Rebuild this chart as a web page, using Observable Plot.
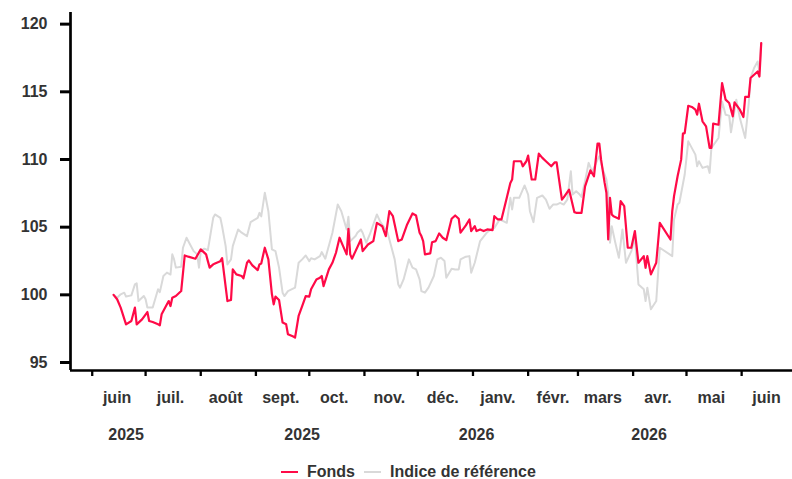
<!DOCTYPE html>
<html>
<head>
<meta charset="utf-8">
<script src="https://cdn.jsdelivr.net/npm/d3@7"></script>
<script src="https://cdn.jsdelivr.net/npm/@observablehq/plot@0.6"></script>
<style>
  html, body { margin: 0; padding: 0; background: #fff; }
  body { position: relative; width: 792px; height: 479px; overflow: hidden; font-family: "Liberation Sans", Arial, Helvetica, sans-serif; }
  #legend { position: absolute; top: 463px; left: 281px; display: flex; align-items: center; font-size: 16px; font-weight: bold; color: #333; line-height: 18px; white-space: nowrap; }
  #legend .sw { display: inline-block; width: 17px; height: 2px; }
  #legend .lab { margin-left: 9px; margin-right: 9px; }
</style>
</head>
<body>
<div id="chart"></div>
<div id="legend"></div>
<script>
// ---- data ----
const seriesNames = ["Fonds", "Indice de référence"];
const seriesColors = ["#ff0a47", "#d9d9d9"];

const fondsDates = [
"2025-06-13","2025-06-15","2025-06-17","2025-06-20","2025-06-23","2025-06-25","2025-06-26","2025-06-29",
"2025-07-02","2025-07-03","2025-07-05","2025-07-08","2025-07-09","2025-07-10","2025-07-13","2025-07-14","2025-07-15","2025-07-16","2025-07-18","2025-07-21","2025-07-23","2025-07-25","2025-07-29",
"2025-08-01","2025-08-04","2025-08-05","2025-08-06","2025-08-08","2025-08-09","2025-08-12","2025-08-13","2025-08-16","2025-08-18","2025-08-19","2025-08-21","2025-08-24","2025-08-25","2025-08-27","2025-08-28","2025-08-30",
"2025-09-02","2025-09-03","2025-09-04","2025-09-06","2025-09-08","2025-09-10","2025-09-11","2025-09-12","2025-09-14","2025-09-16","2025-09-18","2025-09-19","2025-09-22","2025-09-23","2025-09-25","2025-09-27","2025-09-29",
"2025-10-01","2025-10-02","2025-10-05","2025-10-07","2025-10-08","2025-10-09","2025-10-12","2025-10-14","2025-10-16","2025-10-18","2025-10-20","2025-10-22","2025-10-23","2025-10-24","2025-10-25","2025-10-27","2025-10-30","2025-10-31",
"2025-11-03","2025-11-06","2025-11-08","2025-11-11","2025-11-13","2025-11-15","2025-11-17","2025-11-18","2025-11-20","2025-11-22","2025-11-25","2025-11-28","2025-11-30",
"2025-12-02","2025-12-03","2025-12-04","2025-12-05","2025-12-08","2025-12-09","2025-12-11","2025-12-13","2025-12-15","2025-12-17","2025-12-20","2025-12-22","2025-12-24","2025-12-25","2025-12-28","2025-12-30","2025-12-31",
"2026-01-02","2026-01-03","2026-01-05","2026-01-07","2026-01-09","2026-01-12","2026-01-13","2026-01-15","2026-01-17","2026-01-20","2026-01-22","2026-01-23","2026-01-24","2026-01-28","2026-01-29","2026-01-31",
"2026-02-01","2026-02-03","2026-02-05","2026-02-07","2026-02-09","2026-02-11","2026-02-14","2026-02-16","2026-02-17","2026-02-20","2026-02-21","2026-02-24","2026-02-27","2026-02-28",
"2026-03-03","2026-03-05","2026-03-08","2026-03-10","2026-03-12","2026-03-13","2026-03-14","2026-03-16","2026-03-17","2026-03-18","2026-03-19","2026-03-20","2026-03-21","2026-03-24","2026-03-25","2026-03-27","2026-03-29","2026-03-31",
"2026-04-02","2026-04-04","2026-04-07","2026-04-08","2026-04-09","2026-04-11","2026-04-14","2026-04-16","2026-04-22","2026-04-23","2026-04-24","2026-04-26","2026-04-28","2026-04-29","2026-04-30",
"2026-05-02","2026-05-04","2026-05-06","2026-05-07","2026-05-08","2026-05-10","2026-05-12","2026-05-14","2026-05-15","2026-05-16","2026-05-19","2026-05-21","2026-05-23","2026-05-25","2026-05-27","2026-05-28","2026-05-31",
"2026-06-02","2026-06-03","2026-06-05","2026-06-06","2026-06-08","2026-06-10","2026-06-11","2026-06-12"
];
const fondsValues = [
100.0,99.67,99.06,97.82,98.07,99.06,97.82,98.19,
98.73,98.07,97.99,97.82,97.75,98.56,99.30,99.54,99.17,99.79,99.91,100.28,102.91,102.82,102.67,
103.36,102.99,102.49,102.01,102.25,102.32,102.49,102.71,99.54,99.62,101.88,101.51,101.39,101.22,102.37,102.54,102.18,
101.83,102.25,102.32,103.48,102.62,100.04,99.30,99.87,99.62,97.95,97.82,97.09,96.92,96.84,98.44,99.17,99.91,
99.87,100.41,101.14,101.27,101.39,100.65,101.88,102.37,103.11,104.22,103.60,102.99,104.88,102.99,102.67,103.23,104.09,103.23,
103.72,103.97,105.32,105.07,104.34,106.18,105.81,105.20,103.97,104.09,105.20,106.01,105.86,
104.59,104.34,103.97,102.99,103.06,103.89,103.97,104.54,104.22,104.04,105.62,105.86,105.62,104.59,105.13,105.57,104.71,
105.07,104.71,104.83,104.71,104.83,104.78,105.81,105.57,105.57,107.17,108.27,108.52,109.87,109.87,109.50,109.87,
110.29,108.52,108.52,110.43,110.12,109.87,109.50,109.79,109.79,107.04,107.20,107.78,106.11,106.06,
106.06,108.02,109.20,108.76,111.17,111.17,109.99,108.27,107.54,104.09,107.17,105.94,105.80,105.62,106.92,106.55,103.48,103.48,
104.71,102.37,102.86,102.00,102.86,101.51,102.37,105.32,104.09,106.18,107.29,108.76,109.99,111.91,111.95,
113.97,113.88,113.68,113.31,114.12,112.82,112.45,110.86,110.86,112.65,112.57,115.65,114.42,114.17,113.19,114.22,113.68,
113.14,114.62,114.62,116.02,116.26,116.50,116.13,118.60
];

const indiceDates = [
"2025-06-13","2025-06-15","2025-06-17","2025-06-19","2025-06-20","2025-06-23","2025-06-25","2025-06-26","2025-06-27","2025-06-30",
"2025-07-01","2025-07-02","2025-07-05","2025-07-08","2025-07-09","2025-07-11","2025-07-13","2025-07-15","2025-07-16","2025-07-17","2025-07-18","2025-07-21","2025-07-22","2025-07-24","2025-07-26","2025-07-28","2025-07-30","2025-07-31",
"2025-08-01","2025-08-03","2025-08-05","2025-08-08","2025-08-09","2025-08-12","2025-08-13","2025-08-15","2025-08-16","2025-08-18","2025-08-19","2025-08-22","2025-08-24","2025-08-27","2025-08-29",
"2025-09-02","2025-09-03","2025-09-04","2025-09-06","2025-09-08","2025-09-10","2025-09-12","2025-09-14","2025-09-16","2025-09-17","2025-09-19","2025-09-23","2025-09-25","2025-09-27","2025-09-29",
"2025-10-01","2025-10-02","2025-10-04","2025-10-07","2025-10-08","2025-10-10","2025-10-14","2025-10-17","2025-10-19","2025-10-22","2025-10-23","2025-10-24","2025-10-25","2025-10-27","2025-10-28","2025-10-30","2025-10-31",
"2025-11-02","2025-11-04","2025-11-08","2025-11-10","2025-11-13","2025-11-14","2025-11-16","2025-11-18","2025-11-20","2025-11-21","2025-11-23","2025-11-26","2025-11-28","2025-11-30",
"2025-12-02","2025-12-03","2025-12-05","2025-12-07","2025-12-10","2025-12-12","2025-12-14","2025-12-16","2025-12-17","2025-12-20","2025-12-22","2025-12-24","2025-12-25","2025-12-28","2025-12-30","2025-12-31",
"2026-01-02","2026-01-05","2026-01-09","2026-01-11","2026-01-13","2026-01-16","2026-01-20","2026-01-22","2026-01-23","2026-01-24","2026-01-27","2026-01-30",
"2026-02-01","2026-02-02","2026-02-04","2026-02-06","2026-02-09","2026-02-11","2026-02-13","2026-02-15","2026-02-17","2026-02-19","2026-02-21","2026-02-23","2026-02-25","2026-02-26","2026-02-28",
"2026-03-02","2026-03-03","2026-03-05","2026-03-07","2026-03-09","2026-03-12","2026-03-13","2026-03-15","2026-03-17","2026-03-18","2026-03-19","2026-03-20","2026-03-22","2026-03-24","2026-03-26","2026-03-28","2026-03-31",
"2026-04-02","2026-04-04","2026-04-07","2026-04-08","2026-04-09","2026-04-11","2026-04-14","2026-04-16","2026-04-23","2026-04-24","2026-04-26","2026-04-27","2026-04-30",
"2026-05-02","2026-05-06","2026-05-07","2026-05-08","2026-05-10","2026-05-13","2026-05-14","2026-05-15","2026-05-19","2026-05-21","2026-05-23","2026-05-25","2026-05-26","2026-05-29","2026-05-31",
"2026-06-03","2026-06-05","2026-06-06","2026-06-08","2026-06-10","2026-06-11","2026-06-12"
];
const indiceValues = [
100.0,99.79,100.04,100.16,99.87,99.96,100.77,100.85,99.54,99.91,
99.67,99.06,99.06,100.41,100.20,101.39,101.64,101.50,102.99,102.62,102.01,102.08,103.48,104.22,103.72,103.23,102.99,102.01,
103.23,103.41,103.30,105.69,105.94,105.69,105.07,103.60,102.25,102.62,103.60,104.83,104.59,104.34,105.37,
105.69,106.06,105.80,107.54,106.18,103.36,103.23,102.01,100.16,99.91,100.28,100.53,102.37,102.62,102.91,
102.49,102.70,102.62,102.86,103.16,102.67,104.59,106.67,106.18,104.83,105.77,103.97,104.09,104.34,104.59,104.83,104.59,
103.85,104.46,105.94,105.37,104.83,104.59,103.60,102.62,100.77,100.53,101.14,102.62,102.01,101.88,
101.14,100.28,100.16,100.53,101.39,102.62,102.74,102.50,101.27,101.93,101.88,101.88,102.62,102.82,102.86,101.64,
102.37,103.97,104.63,104.83,104.95,105.57,105.32,107.17,106.31,107.17,107.17,108.08,
107.41,106.18,105.37,107.17,107.34,107.04,106.36,106.67,106.67,106.80,106.67,107.04,109.13,107.41,107.65,
107.41,107.24,108.39,109.75,109.10,109.99,110.24,109.26,108.52,107.50,103.85,105.07,103.85,102.74,104.83,102.37,103.23,
104.22,100.77,100.41,99.54,100.53,98.93,99.54,103.48,102.86,105.57,106.67,106.80,108.89,
111.34,110.36,109.50,109.87,109.38,109.50,109.01,110.86,111.59,114.29,113.31,113.24,112.01,114.42,113.07,
111.59,114.17,116.02,116.76,117.24,116.50,118.60
];

const yTicks = [95, 100, 105, 110, 115, 120];
const monthStarts = ["2025-06-01","2025-07-01","2025-08-01","2025-09-01","2025-10-01","2025-11-01","2025-12-01","2026-01-01","2026-02-01","2026-03-01","2026-04-01","2026-05-01","2026-06-01"];
const monthLabelDates = ["2025-06-15","2025-07-15","2025-08-15","2025-09-15","2025-10-15","2025-11-15","2025-12-15","2026-01-15","2026-02-15","2026-03-15","2026-04-15","2026-05-15","2026-06-15"];
const monthLabels = ["juin","juil.","août","sept.","oct.","nov.","déc.","janv.","févr.","mars","avr.","mai","juin"];
const yearLabelDates = ["2025-06-20","2025-09-27","2026-01-03","2026-04-10"];
const yearLabels = ["2025","2025","2026","2026"];

// ---- build ----
const parse = d3.utcParse("%Y-%m-%d");
const fonds = fondsDates.map((d, i) => ({date: parse(d), value: fondsValues[i]}));
const indice = indiceDates.map((d, i) => ({date: parse(d), value: indiceValues[i]}));
const monthMap = new Map(monthLabelDates.map((d, i) => [+parse(d), monthLabels[i]]));
const yearMap = new Map(yearLabelDates.map((d, i) => [+parse(d), yearLabels[i]]));

const xDomain = [new Date(Date.UTC(2025, 4, 19, 19)), new Date(Date.UTC(2026, 5, 29, 14))];
const yDomain = [94.41, 120.86];

const textOpts = {fill: "#333", fontSize: 16, fontWeight: "bold", label: null};

const chart = Plot.plot({
  width: 792,
  height: 455,
  marginLeft: 70,
  marginRight: 0,
  marginTop: 12,
  marginBottom: 85,
  style: {fontFamily: '"Liberation Sans", Arial, Helvetica, sans-serif', fontSize: "16px", fontWeight: "bold", color: "#333", background: "white", overflow: "visible"},
  x: {type: "utc", domain: xDomain, label: null},
  y: {domain: yDomain, label: null},
  marks: [
    Plot.axisY(yTicks, {...textOpts, anchor: "left", tickSize: 10, tickPadding: 13, stroke: "black", strokeWidth: 3, tickFormat: d => String(d)}),
    Plot.axisX(monthStarts.map(parse), {anchor: "bottom", tickSize: 6, stroke: "black", strokeWidth: 2.3, tickFormat: () => "", label: null}),
    Plot.axisX(monthLabelDates.map(parse), {...textOpts, anchor: "bottom", tickSize: 0, tickPadding: 21, tickFormat: d => monthMap.get(+d)}),
    Plot.axisX(yearLabelDates.map(parse), {...textOpts, anchor: "bottom", tickSize: 0, tickPadding: 58, tickFormat: d => yearMap.get(+d)}),
    Plot.line(indice, {x: "date", y: "value", stroke: seriesColors[1], strokeWidth: 2}),
    Plot.line(fonds, {x: "date", y: "value", stroke: seriesColors[0], strokeWidth: 2.2}),
    Plot.ruleX([xDomain[0]], {stroke: "black", strokeWidth: 2.7}),
    Plot.ruleY([yDomain[0]], {stroke: "black", strokeWidth: 2.7})
  ]
});
document.getElementById("chart").appendChild(chart);

// legend
const legend = document.getElementById("legend");
seriesNames.forEach((name, i) => {
  const sw = document.createElement("span");
  sw.className = "sw";
  sw.style.background = seriesColors[i];
  const lab = document.createElement("span");
  lab.className = "lab";
  lab.textContent = name;
  legend.appendChild(sw);
  legend.appendChild(lab);
});
</script>
</body>
</html>
